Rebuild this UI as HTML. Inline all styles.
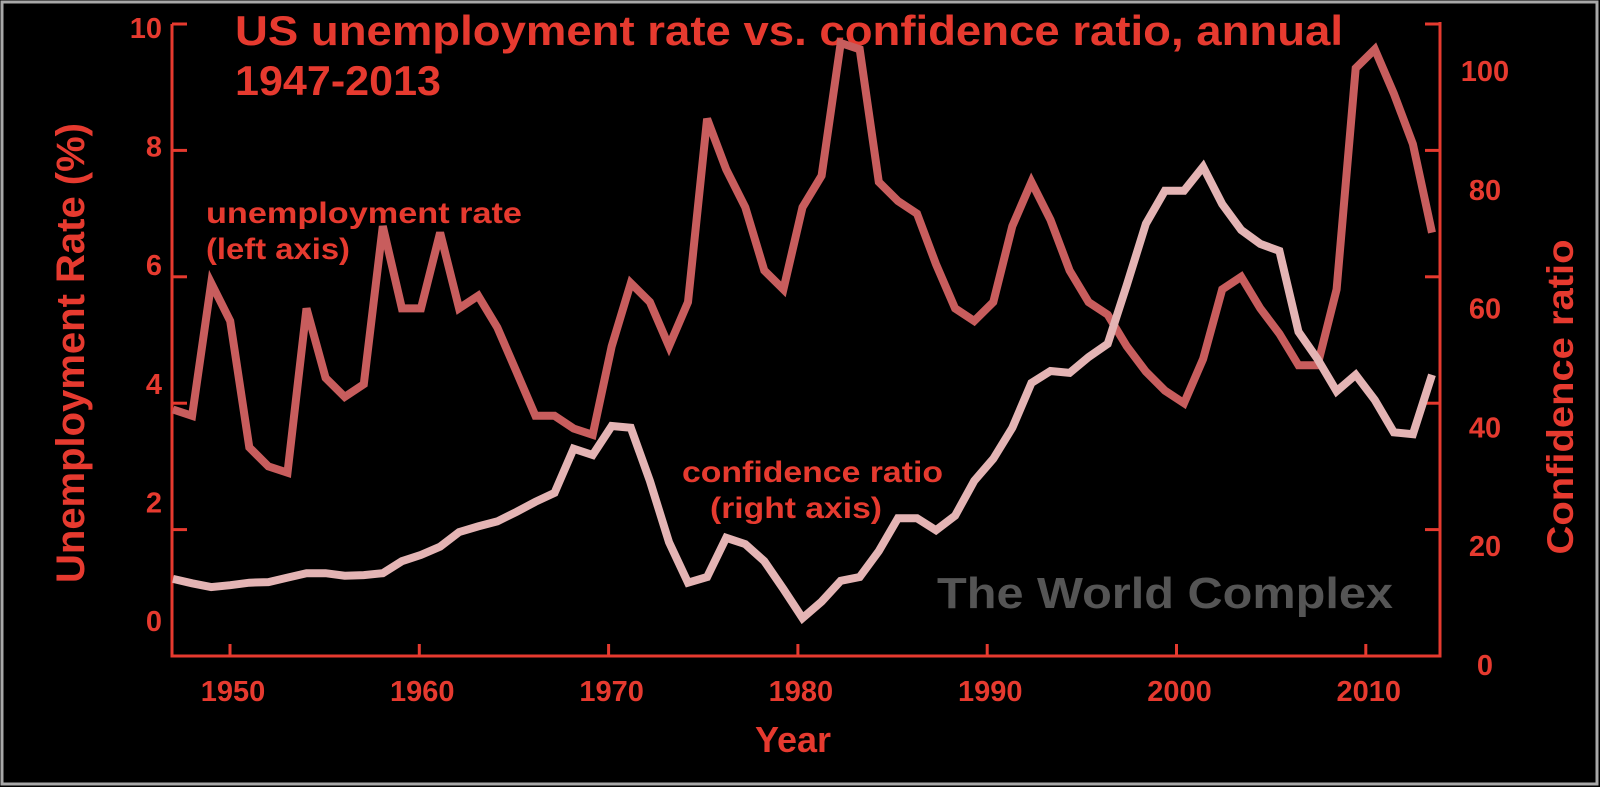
<!DOCTYPE html>
<html><head><meta charset="utf-8">
<style>
html,body{margin:0;padding:0;background:#000;}
svg{display:block;font-family:"Liberation Sans",Arial,sans-serif;font-weight:bold;}
</style></head>
<body>
<svg id="chart" width="1600" height="787" viewBox="0 0 1600 787" xmlns="http://www.w3.org/2000/svg">
<rect x="0" y="0" width="1600" height="787" fill="#000"/>
<rect x="2" y="2" width="1595" height="782" fill="none" stroke="#a8a8a8" stroke-width="3"/>
<text x="235" y="45" font-size="42" fill="#e63a2f" textLength="1108" lengthAdjust="spacingAndGlyphs">US unemployment rate vs. confidence ratio, annual</text>
<text x="235" y="95" font-size="42" fill="#e63a2f" textLength="206" lengthAdjust="spacingAndGlyphs">1947-2013</text>
<g id="axes"></g>
<g id="series"></g>
<text x="206" y="223" font-size="30" fill="#e63a2f" textLength="316" lengthAdjust="spacingAndGlyphs">unemployment rate</text>
<text x="206" y="259" font-size="30" fill="#e63a2f" textLength="144" lengthAdjust="spacingAndGlyphs">(left axis)</text>
<text x="682" y="482" font-size="30" fill="#e63a2f" textLength="261" lengthAdjust="spacingAndGlyphs">confidence ratio</text>
<text x="710" y="518" font-size="30" fill="#e63a2f" textLength="172" lengthAdjust="spacingAndGlyphs">(right axis)</text>
<text x="937" y="608" font-size="44" fill="#555555" textLength="456" lengthAdjust="spacingAndGlyphs">The World Complex</text>
<text x="793" y="752" font-size="36" fill="#e63a2f" text-anchor="middle">Year</text>
<text transform="translate(84,353) rotate(-90)" font-size="40" fill="#e63a2f" text-anchor="middle" textLength="460" lengthAdjust="spacingAndGlyphs">Unemployment Rate (%)</text>
<text transform="translate(1573,397) rotate(-90)" font-size="37" fill="#e63a2f" text-anchor="middle" textLength="315" lengthAdjust="spacingAndGlyphs">Confidence ratio</text>
</svg>
<script>
const years = [];
for (let y = 1947; y <= 2013; y++) years.push(y);
const unemployment = [3.9,3.8,5.9,5.3,3.3,3.0,2.9,5.5,4.4,4.1,4.3,6.8,5.5,5.5,6.7,5.5,5.7,5.2,4.5,3.8,3.8,3.6,3.5,4.9,5.9,5.6,4.9,5.6,8.5,7.7,7.1,6.1,5.8,7.1,7.6,9.7,9.6,7.5,7.2,7.0,6.2,5.5,5.3,5.6,6.8,7.5,6.9,6.1,5.6,5.4,4.9,4.5,4.2,4.0,4.7,5.8,6.0,5.5,5.1,4.6,4.6,5.8,9.3,9.6,8.9,8.1,6.7];
const confidence = [12.2,11.5,10.9,11.2,11.6,11.7,12.4,13.1,13.1,12.7,12.8,13.1,15.0,16.0,17.3,19.6,20.5,21.3,22.8,24.4,25.8,32.8,31.8,36.4,36.1,27.7,18.0,11.6,12.5,18.7,17.7,15.0,10.6,6.0,8.6,11.9,12.5,16.6,21.8,21.8,19.9,22.2,27.7,31.2,36.1,43.2,45.1,44.8,47.3,49.4,58.7,68.4,73.6,73.6,77.4,71.5,67.4,65.2,64.1,51.3,47.0,41.9,44.5,40.5,35.4,35.1,44.5];
const xTicks = [1950,1960,1970,1980,1990,2000,2010];
const leftTicks = [10,8,6,4,2,0];
const rightTicks = [100,80,60,40,20,0];

const NS = "http://www.w3.org/2000/svg";
const xData = y => 173 + (y - 1947) * (1432 - 173) / 66;
const xTick = y => 230 + (y - 1950) * 18.93;
const yLeft = v => 656 - v * 63.2;
const yRight = v => 656 - v * 6.32;
const AX = "#e63a2f";

function mk(tag, attrs, parent) {
  const e = document.createElementNS(NS, tag);
  for (const k in attrs) e.setAttribute(k, attrs[k]);
  parent.appendChild(e);
  return e;
}
const axes = document.getElementById('axes');
const series = document.getElementById('series');

let el = mk('path', {d: 'M172,24 L172,656 L1440,656 L1440,22', fill: 'none', stroke: AX, 'stroke-width': 3}, axes);



leftTicks.forEach((v, i) => {
  const t = mk('line', {x1: 172, x2: 187, y1: yLeft(v), y2: yLeft(v), stroke: AX, 'stroke-width': 3}, axes);
  
  
  const l = mk('text', {x: 162, y: yLeft(10) + 14 + i * 118.6, 'font-size': 29, fill: AX, 'text-anchor': 'end'}, axes);
  
  
  l.textContent = v;
});
rightTicks.forEach((v, i) => {
  const t = mk('line', {x1: 1425, x2: 1440, y1: yRight(v), y2: yRight(v), stroke: AX, 'stroke-width': 3}, axes);
  
  
  const l = mk('text', {x: 1485, y: yRight(100) + 57 + i * 118.8, 'font-size': 29, fill: AX, 'text-anchor': 'middle'}, axes);
  
  
  l.textContent = v;
});
xTicks.forEach(y => {
  const t = mk('line', {x1: xTick(y), x2: xTick(y), y1: 644, y2: 656, stroke: AX, 'stroke-width': 3}, axes);
  
  
  const l = mk('text', {x: xTick(y) + 3, y: 701, 'font-size': 29, fill: AX, 'text-anchor': 'middle'}, axes);
  
  
  l.textContent = y;
});

const uPts = years.map((y, i) => xData(y).toFixed(1) + ',' + yLeft(unemployment[i]).toFixed(1)).join(' ');
const cPts = years.map((y, i) => xData(y).toFixed(1) + ',' + yRight(confidence[i]).toFixed(1)).join(' ');
const uLine = mk('polyline', {points: uPts, fill: 'none', stroke: '#c85d5d', 'stroke-width': 8, 'stroke-linejoin': 'miter'}, series);


const cLine = mk('polyline', {points: cPts, fill: 'none', stroke: '#e4b4b4', 'stroke-width': 8, 'stroke-linejoin': 'miter'}, series);


</script>
</body></html>
